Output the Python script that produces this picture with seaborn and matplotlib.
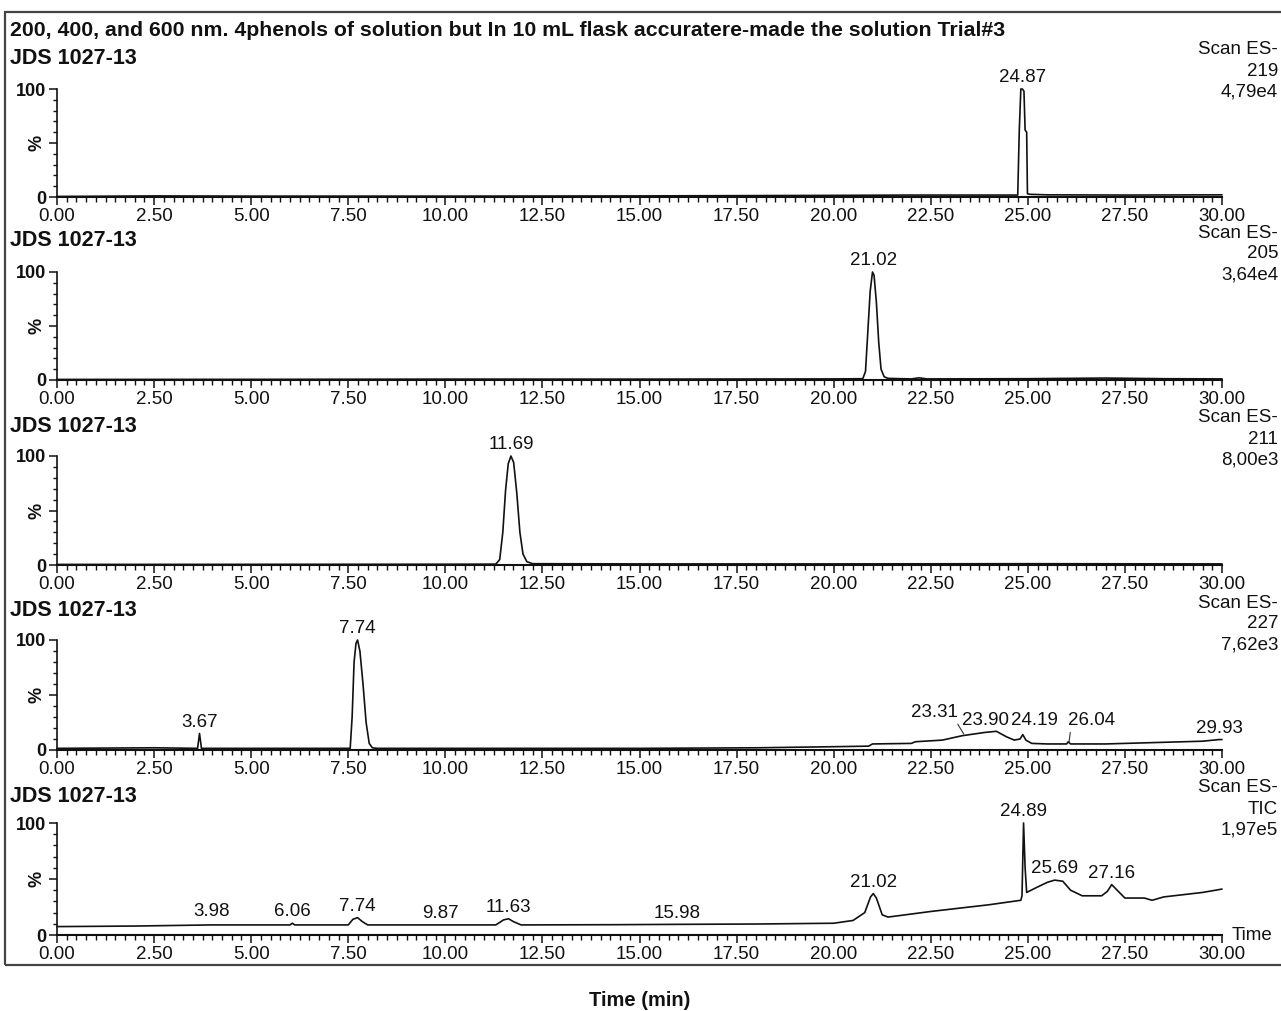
import matplotlib
matplotlib.use("Agg")
import matplotlib.pyplot as plt
from matplotlib.patches import Rectangle
from matplotlib.ticker import MultipleLocator
import seaborn as sns

# ---------------- data ----------------
title = "200, 400, and 600 nm. 4phenols of solution but In 10 mL flask accuratere-made the solution Trial#3"
sample = "JDS 1027-13"
scan_ids = ["219", "205", "211", "227", "TIC"]
scan_max = ["4,79e4", "3,64e4", "8,00e3", "7,62e3", "1,97e5"]
x_ticks = [0.0, 2.5, 5.0, 7.5, 10.0, 12.5, 15.0, 17.5, 20.0, 22.5, 25.0, 27.5, 30.0]

# panel 1 (m/z 219)
t1 = [0.0, 2.5, 5.0, 10.0, 15.0, 20.0, 22.0, 24.74, 24.78, 24.82, 24.86, 24.90, 24.93, 24.97, 24.99, 25.05, 25.5, 27.5, 30.0]
i1 = [0.5, 1.0, 0.8, 0.8, 1.0, 1.5, 1.8, 1.8, 62, 100, 100, 98, 62, 60, 3, 2.5, 2.0, 1.8, 2.0]
lab1_t = ["24.87"]
lab1_h = [100]

# panel 2 (m/z 205)
t2 = [0.0, 5.0, 10.0, 15.0, 20.0, 20.75, 20.82, 20.88, 20.94, 21.00, 21.04, 21.10, 21.16, 21.22, 21.30, 21.40, 22.0, 22.2, 22.4, 25.0, 27.0, 28.5, 30.0]
i2 = [0.5, 0.6, 0.8, 0.8, 1.0, 1.2, 8, 45, 82, 100, 97, 72, 35, 10, 3, 1.5, 1.0, 2.0, 1.0, 1.2, 1.8, 1.2, 1.0]
lab2_t = ["21.02"]
lab2_h = [100]

# panel 3 (m/z 211)
t3 = [0.0, 5.0, 10.0, 11.30, 11.40, 11.48, 11.55, 11.62, 11.69, 11.76, 11.84, 11.92, 12.00, 12.10, 12.25, 15.0, 20.0, 25.0, 30.0]
i3 = [0.5, 0.6, 0.7, 0.8, 5, 30, 68, 93, 100, 94, 66, 30, 10, 3, 1.2, 1.0, 1.0, 1.2, 1.0]
lab3_t = ["11.69"]
lab3_h = [100]

# panel 4 (m/z 227)
t4 = [0.0, 2.5, 3.62, 3.67, 3.72, 5.0, 7.55, 7.60, 7.65, 7.70, 7.74, 7.80, 7.88, 7.96, 8.04, 8.12, 8.25, 10.0, 15.0, 18.0,
      20.0, 20.9, 21.0, 22.0, 22.1, 22.8, 23.31, 23.9, 24.19, 24.45, 24.65, 24.80, 24.87, 24.95, 25.1, 25.5, 26.0, 26.04,
      26.1, 27.0, 27.5, 28.5, 29.5, 29.93, 30.0]
i4 = [1.5, 2.0, 1.5, 15, 1.5, 1.5, 1.5, 30, 80, 97, 100, 90, 60, 25, 6, 2, 1.5, 1.5, 1.5, 2.0,
      3.0, 3.5, 5.5, 6.0, 7.5, 9, 13, 16, 17, 12, 9, 10, 14, 9, 6, 5.5, 5.5, 7.5,
      5.5, 5.5, 6, 7, 8, 9.5, 9.5]
lab4_t = ["3.67", "7.74", "29.93"]
lab4_h = [15, 100, 9.5]

# panel 5 (TIC)
t5 = [0.0, 2.0, 3.98, 5.0, 6.0, 6.06, 6.12, 7.5, 7.62, 7.74, 7.86, 8.0, 9.87, 11.3, 11.5, 11.63, 11.75, 11.95, 14.3,
      15.98, 18.0, 20.0, 20.5, 20.8, 20.95, 21.02, 21.1, 21.25, 21.4, 22.5, 24.0, 24.82, 24.85, 24.89, 24.93, 24.97,
      25.2, 25.5, 25.69, 25.9, 26.1, 26.4, 26.9, 27.05, 27.16, 27.3, 27.5, 28.0, 28.2, 28.5, 29.5, 30.0]
i5 = [7.5, 8, 9, 9, 9, 10.5, 9, 9, 14, 15.5, 12, 9, 9, 9, 13.5, 14.5, 12, 9, 9.2,
      9.5, 9.8, 10.5, 13, 20, 34, 37, 33, 18, 16, 21, 27, 31, 35, 100, 60, 38,
      42, 47, 49, 48, 40, 35, 35, 39, 45, 40, 33, 33, 31, 34, 38, 41]
lab5_t = ["3.98", "6.06", "7.74", "9.87", "11.63", "15.98", "21.02", "24.89", "25.69", "27.16"]
lab5_h = [11, 10.5, 15.5, 9, 14.5, 9.5, 37, 100, 49, 45]

times = [t1, t2, t3, t4, t5]
ints = [i1, i2, i3, i4, i5]
labs_t = [lab1_t, lab2_t, lab3_t, lab4_t, lab5_t]
labs_h = [lab1_h, lab2_h, lab3_h, lab4_h, lab5_h]

# ---------------- layout ----------------
W, H = 1281, 1011
sns.set_theme(style="white")
plt.rcParams["font.family"] = ["Liberation Sans", "DejaVu Sans"]

fig = plt.figure(figsize=(W / 100, H / 100), dpi=100)
fig.patch.set_facecolor("white")

def fx(px):
    return px / W

def fy(py):
    return 1 - py / H

axis0_y = [197, 380, 565, 750, 935]
axis100_y = [89, 272, 456, 640, 823]
LEFT, RIGHT = 57, 1222
INK = "#111111"
LFS = 13.5

# outer frame from the scan
fig.add_artist(Rectangle((fx(5), fy(965)), fx(1300) - fx(5), fy(12) - fy(965),
                         transform=fig.transFigure, fill=False, edgecolor="#444444", lw=1.6))

fig.text(fx(10), fy(30), title, fontsize=15.3, fontweight="bold", va="center", ha="left", color=INK)

for k in range(5):
    b, t = axis0_y[k], axis100_y[k]
    ax = fig.add_axes([fx(LEFT), fy(b), fx(RIGHT) - fx(LEFT), (b - t) / H])
    ax.patch.set_alpha(0)
    sns.lineplot(x=times[k], y=ints[k], ax=ax, color=INK, linewidth=1.2,
                 estimator=None, sort=False, legend=False)
    for ln in ax.lines:
        ln.set_clip_on(False)
    ax.set_xlim(0, 30)
    ax.set_ylim(0, 100)
    ax.set_xlabel("")
    ax.set_ylabel("")
    for s in ["top", "right"]:
        ax.spines[s].set_visible(False)
    ax.spines["left"].set_color(INK)
    ax.spines["bottom"].set_color(INK)
    ax.spines["left"].set_linewidth(1.2)
    ax.spines["bottom"].set_linewidth(1.5)

    ax.set_xticks(x_ticks)
    ax.set_xticklabels([f"{v:.2f}" for v in x_ticks])
    ax.xaxis.set_minor_locator(MultipleLocator(0.25))
    ax.set_yticks([0, 50, 100])
    ax.set_yticklabels(["0", "%", "100"], fontweight="bold")
    ax.get_yticklabels()[1].set_rotation(90)
    ax.get_yticklabels()[1].set_va("center")
    ax.yaxis.set_minor_locator(MultipleLocator(10))
    ax.tick_params(axis="x", which="major", direction="out", length=6, width=1.1,
                   labelsize=13.5, pad=2, colors=INK, bottom=True)
    ax.tick_params(axis="x", which="minor", direction="out", length=3.5, width=1.0, colors=INK, bottom=True)
    ax.tick_params(axis="y", which="major", direction="out", length=6, width=1.1,
                   labelsize=13, pad=2, colors=INK, left=True)
    ax.tick_params(axis="y", which="minor", direction="out", length=3, width=1.0, colors=INK, left=True)

    # peak labels
    for lbl, h in zip(labs_t[k], labs_h[k]):
        ax.annotate(lbl, xy=(float(lbl), h), xytext=(0, 2), textcoords="offset points",
                    ha="center", va="bottom", fontsize=LFS, color=INK, annotation_clip=False)

    # sample label and scan info
    fig.text(fx(10), fy(b - 139), sample, fontsize=15.5, fontweight="bold", va="center", ha="left", color=INK)
    for j, s in enumerate(["Scan ES-", scan_ids[k], scan_max[k]]):
        fig.text(fx(1278), fy(b - 147 + 21 * j), s, fontsize=13.5, va="center", ha="right", color=INK)

    if k == 3:
        ax.annotate("23.31", xy=(23.35, 14.5), xytext=(22.6, 26.5), ha="center", va="bottom",
                    fontsize=LFS, color=INK, annotation_clip=False,
                    arrowprops=dict(arrowstyle="-", lw=0.8, color="#333333", shrinkA=0, shrinkB=0,
                                    relpos=(0.95, 0.0)))
        ax.text(23.92, 19, "23.90", ha="center", va="bottom", fontsize=LFS, color=INK)
        ax.text(25.16, 19, "24.19", ha="center", va="bottom", fontsize=LFS, color=INK)
        ax.annotate("26.04", xy=(26.06, 7), xytext=(26.65, 19), ha="center", va="bottom",
                    fontsize=LFS, color=INK, annotation_clip=False,
                    arrowprops=dict(arrowstyle="-", lw=0.8, color="#333333", shrinkA=0, shrinkB=0,
                                    relpos=(0.05, 0.0)))
    if k == 4:
        ax.text(30.25, 0, "Time", ha="left", va="center", fontsize=13.5, color=INK)

fig.text(fx(640), fy(1000), "Time (min)", fontsize=14.5, fontweight="bold", ha="center", va="center", color=INK)

fig.savefig("out.png", dpi=100, facecolor="white")
